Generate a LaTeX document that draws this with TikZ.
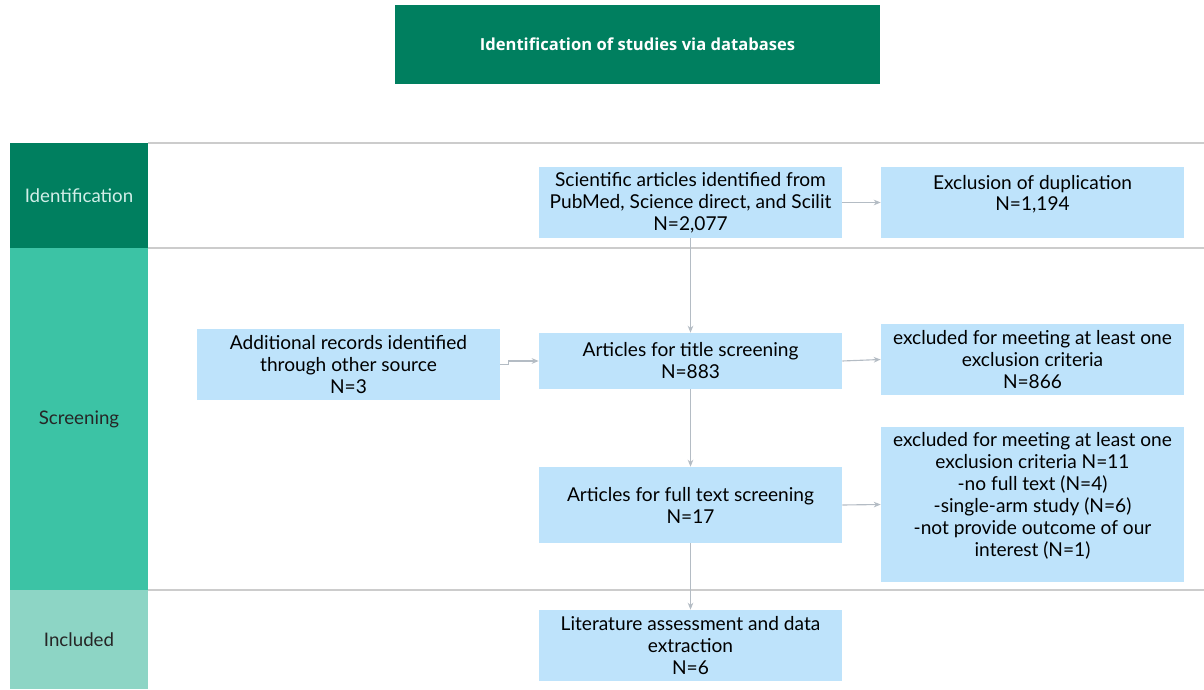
\documentclass[tikz,border=0pt]{standalone}
\usepackage{fontspec}
\setmainfont{Lato}
\newfontfamily\headfont{Open Sans}
\usepackage{tikz}
\usetikzlibrary{arrows.meta,positioning,calc}
\usepackage{xcolor}
\definecolor{prismadark}{HTML}{007F5F}
\definecolor{prismamid}{HTML}{3CC3A5}
\definecolor{prismalight}{HTML}{8DD5C5}
\definecolor{boxblue}{HTML}{BEE3FB}
\definecolor{linkgray}{HTML}{B4BCC4}
\definecolor{rulegray}{HTML}{CCCCCC}

\begin{document}
\begin{tikzpicture}[font=\fontsize{13.6}{15.6}\selectfont, >={Stealth[length=5pt,width=4pt]},
    band/.style={fill=#1, minimum width=3.45cm, align=center, inner sep=0pt,
                 font=\fontsize{13.3}{15.6}\selectfont},
    flowbox/.style={fill=boxblue, minimum width=7.575cm, minimum height=#1,
                    align=center, inner sep=2pt},
    link/.style={->, linkgray, line width=0.8pt}]
  \useasboundingbox (0,0) rectangle (30.1,17.225);
  %% Header
  \node[fill=prismadark, minimum width=12.125cm, minimum height=1.975cm,
        text=white, font=\headfont\bfseries\fontsize{11.8}{14}\selectfont] (head) at (15.9375,16.1125)
    {Identification of studies via databases};
  %% Phase bands on the left
  \node[band=prismadark, minimum height=2.625cm, text=prismalight!40] (idn) at (1.975,12.3375) {Identification};
  \node[band=prismamid, minimum height=8.55cm, text=black!85] (scr) at (1.975,6.75) {Screening};
  \node[band=prismalight, minimum height=2.475cm, text=black!85] (inc) at (1.975,1.2375) {Included};
  %% Row separators
  \foreach \y in {13.65,11.025,2.475}
    \draw[rulegray, line width=0.8pt] (3.7,\y) -- (30.1,\y);
  %% Flow boxes
  \node[flowbox=1.775cm] (found) at (17.2625,12.1625)
    {Scientific articles identified from\\ PubMed, Science direct, and Scilit\\ N=2,077};
  \node[flowbox=1.775cm] (dupl) at (25.8125,12.1625)
    {Exclusion of duplication\\ N=1,194\\[-2pt]};
  \node[flowbox=1.775cm] (extra) at (8.7125,8.1125)
    {Additional records identified\\ through other source\\ N=3};
  \node[flowbox=1.4cm] (title) at (17.2625,8.2)
    {Articles for title screening\\ N=883};
  \node[flowbox=1.775cm] (excla) at (25.8125,8.2375)
    {excluded for meeting at least one\\ exclusion criteria\\ N=866};
  \node[flowbox=1.9cm] (full) at (17.2625,4.6)
    {Articles for full text screening\\ N=17};
  \node[flowbox=3.875cm] (exclb) at (25.8125,4.6125)
    {excluded for meeting at least one\\ exclusion criteria N=11\\ -no full text (N=4)\\
     -single-arm study (N=6)\\ -not provide outcome of our\\ interest (N=1)\\[-1pt]};
  \node[flowbox=1.775cm] (final) at (17.2625,1.0875)
    {Literature assessment and data\\ extraction\\ N=6};
  %% Connectors
  \foreach \from/\to in {found/title,title/full,full/final}
    \draw[link] (\from.south) -- (\to.north);
  \foreach \from/\to in {found/dupl,title/excla,full/exclb}
    \draw[link] (\from.east) -- (\to.west);
  \draw[link] (extra.east) -- ++(0.2,0) |- (title.west);
\end{tikzpicture}
\end{document}
